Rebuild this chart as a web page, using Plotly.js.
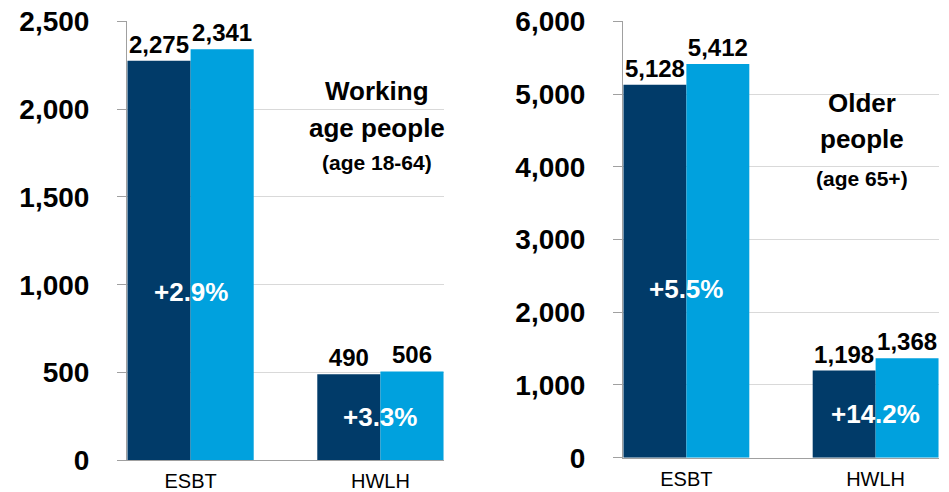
<!DOCTYPE html>
<html><head><meta charset="utf-8">
<script src="https://cdn.plot.ly/plotly-3.0.1.min.js"></script>
<style>html,body{margin:0;padding:0;background:#fff}#chart{width:949px;height:492px}</style>
</head><body><div id="chart"></div>
<script>
// ---- data ----
const categories = ['ESBT', 'HWLH'];
const workingPrev = [2275, 490];
const workingCurr = [2341, 506];
const olderPrev = [5128, 1198];
const olderCurr = [5412, 1368];
const workingTicks = [0, 500, 1000, 1500, 2000, 2500];
const olderTicks = [0, 1000, 2000, 3000, 4000, 5000, 6000];
const workingTitle = ['Working', 'age people', '(age 18-64)'];
const olderTitle = ['Older', 'people', '(age 65+)'];

// ---- styles ----
const DARK = '#013B69';
const LIGHT = '#00A1DE';
const FONT = 'Liberation Sans, Arial, sans-serif';
const W = 949, H = 492;
const fmt = v => v.toLocaleString('en-US');
const pct = (a, b) => '+' + ((b - a) / a * 100).toFixed(1) + '%';

function barTrace(vals, color, xa, ya) {
  return {
    type: 'bar', x: categories, y: vals, xaxis: xa, yaxis: ya,
    marker: {color: color, line: {width: 0}},
    text: vals.map(fmt), textposition: 'outside', cliponaxis: false,
    constraintext: 'none',
    textfont: {family: FONT, size: 24, color: '#000', weight: 'bold'},
    hoverinfo: 'skip'
  };
}

const traces = [
  barTrace(workingPrev, DARK, 'x', 'y'),
  barTrace(workingCurr, LIGHT, 'x', 'y'),
  barTrace(olderPrev, DARK, 'x2', 'y2'),
  barTrace(olderCurr, LIGHT, 'x2', 'y2')
];

const px = x => x / W;
const py = y => 1 - y / H;

function yAxis(domain, range, ticks, anchor) {
  return {
    domain: domain, range: range, anchor: anchor,
    tickvals: ticks, ticktext: ticks.map(fmt),
    ticks: 'outside', ticklen: 9, tickcolor: '#a0a0a0', tickwidth: 1,
    showline: true, linecolor: '#a0a0a0', linewidth: 1,
    showgrid: true, gridcolor: '#d9d9d9', gridwidth: 1, zeroline: false,
    tickfont: {family: FONT, size: 28, color: '#000', weight: 'bold'},
    ticklabelstandoff: 22, automargin: false, fixedrange: true
  };
}
function xAxis(domain, anchor) {
  return {
    domain: domain, range: [-0.335, 1.335], anchor: anchor, type: 'category',
    showline: true, linecolor: '#a0a0a0', linewidth: 1, ticks: '',
    showgrid: false, zeroline: false,
    tickfont: {family: FONT, size: 20, color: '#000'},
    ticklabelstandoff: 3, automargin: false, fixedrange: true
  };
}

const annotations = [];
function titleLines(lines, xc, ys, sizes) {
  lines.forEach((t, i) => annotations.push({
    xref: 'paper', yref: 'paper', x: px(xc), y: py(ys[i]),
    xanchor: 'center', yanchor: 'middle', showarrow: false, text: t,
    font: {family: FONT, size: sizes[i], color: '#000', weight: 'bold'}
  }));
}
titleLines(workingTitle, 377, [91, 128, 162], [26, 26, 21]);
titleLines(olderTitle, 862, [103, 139, 178], [26, 26, 21]);

function pctLabels(prev, curr, xa, ya, ys) {
  categories.forEach((c, i) => annotations.push({
    xref: xa, yref: ya, x: c, y: ys[i], xanchor: 'center', yanchor: 'middle',
    showarrow: false, text: pct(prev[i], curr[i]),
    font: {family: FONT, size: 26, color: '#fff', weight: 'bold'}
  }));
}
pctLabels(workingPrev, workingCurr, 'x', 'y', [957, workingPrev[1] / 2]);
pctLabels(olderPrev, olderCurr, 'x2', 'y2', [2320, olderPrev[1] / 2]);

const layout = {
  width: W, height: H, autosize: false,
  margin: {l: 0, r: 0, t: 0, b: 0, pad: 0},
  paper_bgcolor: '#fff', plot_bgcolor: '#fff',
  showlegend: false, barmode: 'group', bargap: 0.335, bargroupgap: 0,
  xaxis: xAxis([px(127), px(444)], 'y'),
  yaxis: yAxis([py(460.3), py(21.3)], [0, 2500], workingTicks, 'x'),
  xaxis2: xAxis([px(623), px(939)], 'y2'),
  yaxis2: yAxis([py(457.7), py(21.3)], [0, 6000], olderTicks, 'x2'),
  annotations: annotations,
  font: {family: FONT}
};

Plotly.newPlot('chart', traces, layout, {displayModeBar: false, staticPlot: true});
</script>
</body></html>
